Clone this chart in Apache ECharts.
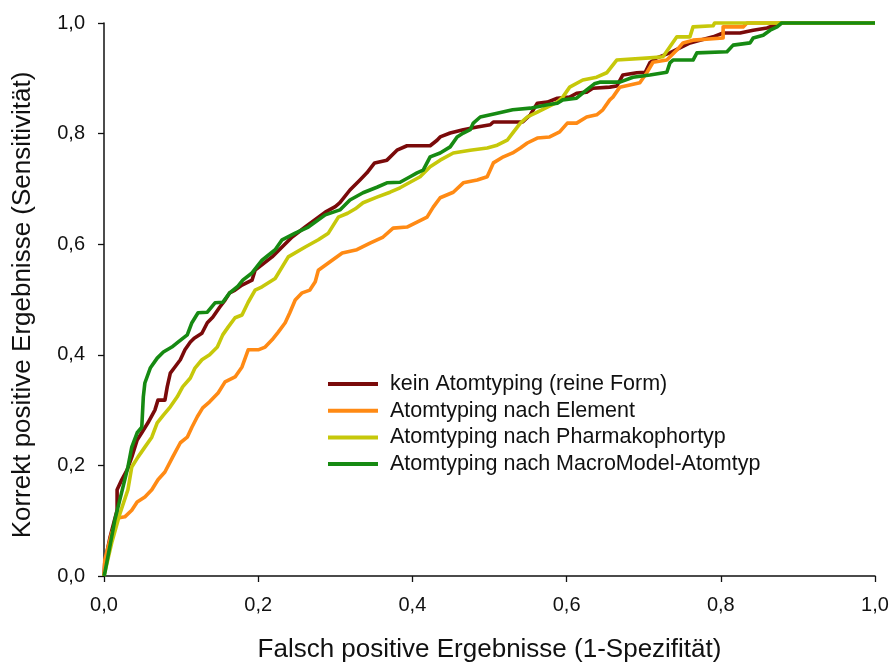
<!DOCTYPE html>
<html>
<head>
<meta charset="utf-8">
<script src="https://cdn.jsdelivr.net/npm/echarts@6/dist/echarts.min.js"></script>
<style>
html,body{margin:0;padding:0;background:#fff;}
#chart{width:891px;height:664px;}
</style>
</head>
<body>
<div id="chart"></div>
<script>
const seriesNames = [
  'kein Atomtyping (reine Form)',
  'Atomtyping nach Element',
  'Atomtyping nach Pharmakophortyp',
  'Atomtyping nach MacroModel-Atomtyp'
];
const seriesColors = ['#7a0a0a', '#ff8a14', '#c6c80a', '#168a12'];
const xTicks = [0, 0.2, 0.4, 0.6, 0.8, 1.0];

const keinAtomtyping = [[0,0],[0.001,0.024],[0.008,0.071],[0.017,0.119],[0.017,0.156],[0.023,0.174],[0.030,0.192],[0.036,0.215],[0.043,0.246],[0.049,0.259],[0.057,0.277],[0.066,0.300],[0.070,0.318],[0.079,0.318],[0.082,0.342],[0.086,0.367],[0.092,0.378],[0.099,0.391],[0.105,0.409],[0.112,0.423],[0.117,0.430],[0.127,0.439],[0.134,0.458],[0.141,0.468],[0.150,0.486],[0.157,0.499],[0.163,0.512],[0.170,0.517],[0.179,0.526],[0.192,0.535],[0.196,0.553],[0.218,0.577],[0.244,0.613],[0.261,0.631],[0.287,0.658],[0.300,0.668],[0.306,0.675],[0.319,0.698],[0.332,0.716],[0.341,0.729],[0.351,0.747],[0.367,0.752],[0.380,0.770],[0.393,0.778],[0.423,0.778],[0.432,0.788],[0.436,0.794],[0.449,0.801],[0.466,0.807],[0.484,0.812],[0.501,0.816],[0.505,0.821],[0.543,0.821],[0.553,0.834],[0.562,0.855],[0.575,0.857],[0.588,0.864],[0.604,0.866],[0.613,0.873],[0.626,0.875],[0.634,0.882],[0.656,0.884],[0.665,0.886],[0.673,0.906],[0.691,0.910],[0.702,0.911],[0.708,0.928],[0.717,0.937],[0.734,0.946],[0.747,0.955],[0.760,0.964],[0.773,0.969],[0.790,0.975],[0.803,0.982],[0.825,0.982],[0.842,0.987],[0.860,0.991],[0.877,1.0],[1,1]];

const nachElement = [[0,0],[0.001,0.029],[0.010,0.078],[0.018,0.105],[0.027,0.107],[0.036,0.119],[0.043,0.134],[0.053,0.143],[0.062,0.156],[0.070,0.174],[0.079,0.188],[0.089,0.215],[0.099,0.241],[0.108,0.251],[0.114,0.269],[0.121,0.288],[0.128,0.304],[0.137,0.315],[0.148,0.331],[0.157,0.351],[0.170,0.360],[0.179,0.378],[0.187,0.409],[0.200,0.409],[0.209,0.414],[0.218,0.427],[0.226,0.441],[0.235,0.458],[0.241,0.476],[0.248,0.499],[0.257,0.512],[0.267,0.517],[0.274,0.532],[0.278,0.553],[0.291,0.566],[0.309,0.584],[0.328,0.590],[0.345,0.602],[0.362,0.613],[0.375,0.629],[0.393,0.631],[0.406,0.640],[0.419,0.649],[0.427,0.667],[0.436,0.684],[0.453,0.694],[0.466,0.711],[0.484,0.716],[0.497,0.722],[0.505,0.747],[0.518,0.758],[0.530,0.765],[0.540,0.774],[0.549,0.783],[0.562,0.792],[0.578,0.794],[0.591,0.803],[0.601,0.819],[0.613,0.819],[0.626,0.830],[0.639,0.834],[0.647,0.843],[0.656,0.861],[0.660,0.866],[0.669,0.884],[0.695,0.892],[0.704,0.910],[0.712,0.929],[0.730,0.933],[0.743,0.951],[0.751,0.964],[0.764,0.969],[0.803,0.973],[0.803,0.993],[0.829,0.993],[0.834,1.0],[1,1]];

const nachPharmakophortyp = [[0,0],[0.005,0.03],[0.010,0.06],[0.020,0.11],[0.031,0.156],[0.036,0.197],[0.044,0.215],[0.053,0.233],[0.062,0.251],[0.069,0.277],[0.077,0.291],[0.086,0.306],[0.095,0.324],[0.102,0.342],[0.112,0.358],[0.118,0.376],[0.127,0.391],[0.137,0.400],[0.147,0.414],[0.154,0.436],[0.161,0.450],[0.170,0.467],[0.179,0.472],[0.187,0.495],[0.196,0.517],[0.205,0.523],[0.222,0.538],[0.239,0.577],[0.261,0.595],[0.278,0.608],[0.291,0.620],[0.304,0.649],[0.316,0.656],[0.326,0.664],[0.336,0.675],[0.354,0.685],[0.371,0.694],[0.384,0.702],[0.397,0.712],[0.410,0.722],[0.423,0.740],[0.436,0.752],[0.453,0.765],[0.475,0.770],[0.497,0.774],[0.510,0.779],[0.523,0.788],[0.530,0.801],[0.540,0.819],[0.549,0.830],[0.562,0.839],[0.575,0.848],[0.588,0.857],[0.595,0.866],[0.604,0.884],[0.621,0.897],[0.639,0.902],[0.652,0.910],[0.665,0.933],[0.708,0.937],[0.725,0.939],[0.734,0.957],[0.743,0.975],[0.760,0.975],[0.764,0.993],[0.790,0.995],[0.792,1.0],[1,1]];

const nachMacroModel = [[0,0],[0.001,0.005],[0.014,0.101],[0.031,0.197],[0.036,0.233],[0.043,0.259],[0.049,0.269],[0.051,0.324],[0.053,0.349],[0.060,0.376],[0.069,0.394],[0.077,0.405],[0.088,0.414],[0.096,0.423],[0.108,0.436],[0.114,0.458],[0.122,0.476],[0.134,0.477],[0.144,0.494],[0.154,0.495],[0.163,0.512],[0.173,0.523],[0.180,0.535],[0.192,0.548],[0.205,0.571],[0.222,0.590],[0.231,0.608],[0.248,0.620],[0.265,0.631],[0.287,0.653],[0.306,0.662],[0.319,0.680],[0.336,0.693],[0.354,0.703],[0.367,0.711],[0.384,0.712],[0.397,0.722],[0.406,0.729],[0.414,0.734],[0.423,0.758],[0.436,0.765],[0.449,0.776],[0.458,0.794],[0.466,0.801],[0.475,0.807],[0.479,0.819],[0.488,0.830],[0.510,0.837],[0.530,0.843],[0.553,0.846],[0.575,0.852],[0.588,0.855],[0.595,0.861],[0.613,0.864],[0.626,0.879],[0.636,0.890],[0.643,0.893],[0.669,0.893],[0.686,0.902],[0.708,0.906],[0.730,0.911],[0.734,0.928],[0.738,0.933],[0.764,0.933],[0.769,0.946],[0.808,0.948],[0.816,0.960],[0.838,0.964],[0.842,0.973],[0.855,0.978],[0.864,0.987],[0.873,0.993],[0.879,1.0],[1,1]];

const seriesData = [keinAtomtyping, nachElement, nachPharmakophortyp, nachMacroModel];

const FONT = '"Liberation Sans", Arial, sans-serif';
const fmt = v => v.toFixed(1).replace('.', ',');

const chart = echarts.init(document.getElementById('chart'), null, {renderer: 'canvas'});
chart.setOption({
  animation: false,
  backgroundColor: '#ffffff',
  textStyle: {fontFamily: FONT},
  grid: {left: 104, right: 16, top: 23, bottom: 88, containLabel: false, outerBoundsMode: 'none'},
  legend: {
    data: seriesNames,
    orient: 'vertical',
    left: 328,
    top: 373,
    padding: 0,
    icon: 'rect',
    itemWidth: 50,
    itemHeight: 4,
    itemGap: 4.7,
    textStyle: {fontFamily: FONT, fontSize: 21.5, color: '#111', padding: [0, 0, 0, 7], lineHeight: 22}
  },
  xAxis: {
    type: 'value', min: 0, max: 1, interval: 0.2,
    name: 'Falsch positive Ergebnisse (1-Spezifität)',
    nameLocation: 'middle', nameGap: 61,
    nameTextStyle: {fontFamily: FONT, fontSize: 26, lineHeight: 26, color: '#111'},
    axisLine: {show: true, lineStyle: {color: '#111', width: 1.5}},
    axisTick: {show: true, length: 6, lineStyle: {color: '#111', width: 1.3}},
    axisLabel: {fontFamily: FONT, fontSize: 20, color: '#111', margin: 19, formatter: fmt},
    splitLine: {show: false}
  },
  yAxis: {
    type: 'value', min: 0, max: 1, interval: 0.2,
    name: 'Korrekt positive Ergebnisse (Sensitivität)',
    nameLocation: 'middle', nameGap: 68, nameRotate: 90,
    nameTextStyle: {fontFamily: FONT, fontSize: 26, lineHeight: 26, color: '#111', padding: [0, 11, 0, 0]},
    axisLine: {show: true, lineStyle: {color: '#111', width: 1.5}},
    axisTick: {show: true, length: 6, lineStyle: {color: '#111', width: 1.3}},
    axisLabel: {fontFamily: FONT, fontSize: 20, color: '#111', margin: 19, formatter: fmt},
    splitLine: {show: false}
  },
  series: seriesNames.map((n, i) => ({
    name: n,
    type: 'line',
    data: seriesData[i],
    showSymbol: false,
    symbol: 'none',
    lineStyle: {color: seriesColors[i], width: 3.6, join: 'round'},
    itemStyle: {color: seriesColors[i]},
    clip: false,
    z: 2 + i
  }))
});
</script>
</body>
</html>
